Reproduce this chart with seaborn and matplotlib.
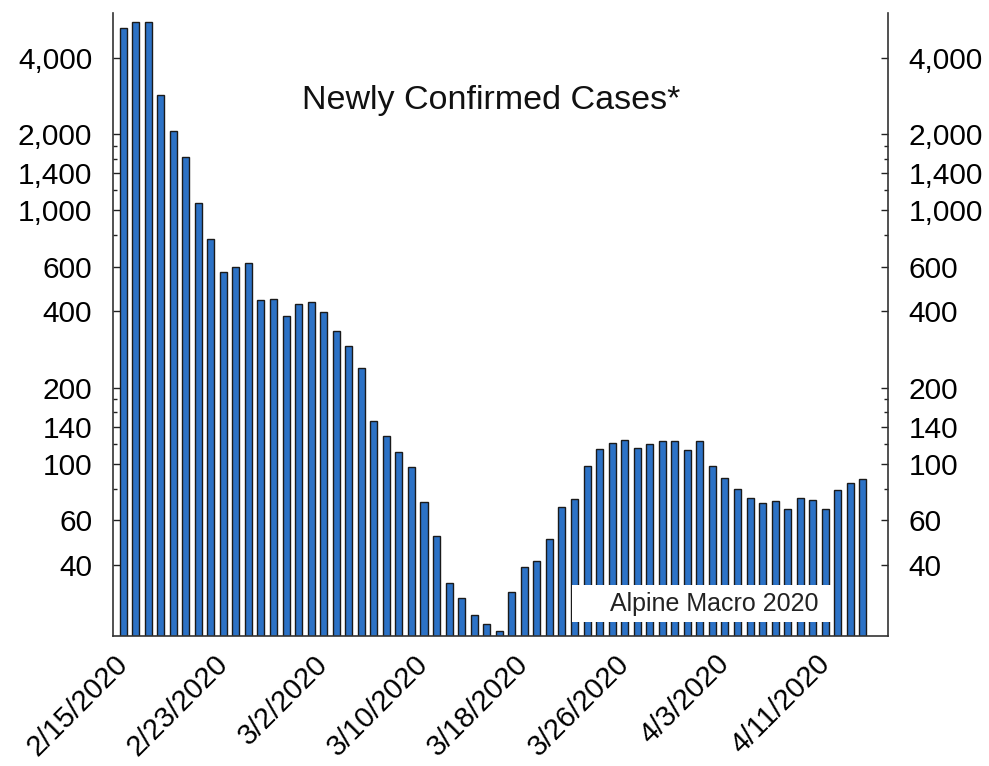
import matplotlib
matplotlib.use("Agg")
import matplotlib.pyplot as plt
import matplotlib.patches as mpatches
from matplotlib.ticker import FixedLocator, FuncFormatter, NullFormatter
import numpy as np
import pandas as pd
import seaborn as sns

# ---- data ----
start_date = "2020-02-15"
n_days = 60
new_cases = [
    5230, 5520, 5520, 2850, 2055, 1620, 1070, 772, 573, 598,
    621, 444, 446, 384, 429, 436, 398, 336, 293, 239,
    148, 129, 111.5, 97, 71, 52, 34, 29.7, 25.3, 23.5,
    21.9, 31.2, 39.4, 41.6, 50.8, 68, 73, 98.6, 114.6, 120.7,
    124.8, 116, 119.7, 123.8, 122.8, 113.6, 122.8, 98.2, 88.5, 80,
    73.7, 70.5, 71.6, 66.8, 73.7, 72.1, 66.8, 79.3, 84.5, 87.7,
]
dates = pd.date_range(start_date, periods=n_days, freq="D")
date_labels = [f"{d.month}/{d.day}/{d.year}" for d in dates]
label_every = 8
major_yticks = [40, 60, 100, 140, 200, 400, 600, 1000, 1400, 2000, 4000]
minor_yticks = [80, 120, 160, 180, 800, 1200, 1600, 1800]
title_text = "Newly Confirmed Cases*"
source_text = "Alpine Macro 2020"

df = pd.DataFrame({"date": date_labels, "cases": new_cases})

sns.set_theme(style="white")
plt.rcParams["font.family"] = ["Liberation Sans", "DejaVu Sans"]

fig = plt.figure(figsize=(9.89, 7.66), dpi=100)
ax = fig.add_axes([113 / 989, 1 - 636 / 766, (888 - 113) / 989, (636 - 13) / 766])

sns.barplot(data=df, x="date", y="cases", color="#2c72c6", saturation=1,
            edgecolor="#1a1a1a", linewidth=1.0, width=0.56, ax=ax)

ax.set_yscale("log")
ax.set_ylim(21, 6000)
ax.set_xlim(-0.8, n_days + 1.0)

ax.yaxis.set_major_locator(FixedLocator(major_yticks))
ax.yaxis.set_minor_locator(FixedLocator(minor_yticks))
ax.yaxis.set_major_formatter(FuncFormatter(lambda v, p: f"{int(round(v)):,}"))
ax.yaxis.set_minor_formatter(NullFormatter())

ax.tick_params(axis="y", which="both", direction="in", left=True, right=True,
               labelleft=True, labelright=True, labelsize=21.5, colors="#222222",
               width=1.0)
ax.tick_params(axis="y", which="major", length=5, pad=15)
ax.tick_params(axis="y", which="minor", length=3)
for lab in ax.get_yticklabels():
    lab.set_color("black")

xt = list(range(0, n_days, label_every))
ax.set_xticks(xt)
ax.set_xticklabels([date_labels[i] for i in xt], rotation=45, ha="right",
                   va="center", rotation_mode="anchor", fontsize=21, color="black")
ax.tick_params(axis="x", which="both", bottom=False, length=0, pad=17)

ax.set_xlabel("")
ax.set_ylabel("")

for side in ["left", "right", "bottom"]:
    ax.spines[side].set_visible(True)
    ax.spines[side].set_color("#333333")
    ax.spines[side].set_linewidth(1.2)
ax.spines["top"].set_visible(False)

ax.text(491 / 989, 1 - 100 / 766, title_text, transform=fig.transFigure, ha="center",
        va="center", fontsize=24.5, color="#111111")

rect = mpatches.Rectangle((572 / 989, 1 - 622 / 766), 260 / 989, 37 / 766,
                          transform=fig.transFigure, facecolor="white",
                          edgecolor="none", zorder=5)
ax.add_artist(rect)
rect.set_clip_on(False)
ax.text(714 / 989, 1 - 604 / 766, source_text, transform=fig.transFigure,
        ha="center", va="center", fontsize=18, color="#222222", zorder=6)

fig.savefig("out.png", dpi=100, facecolor="white")
